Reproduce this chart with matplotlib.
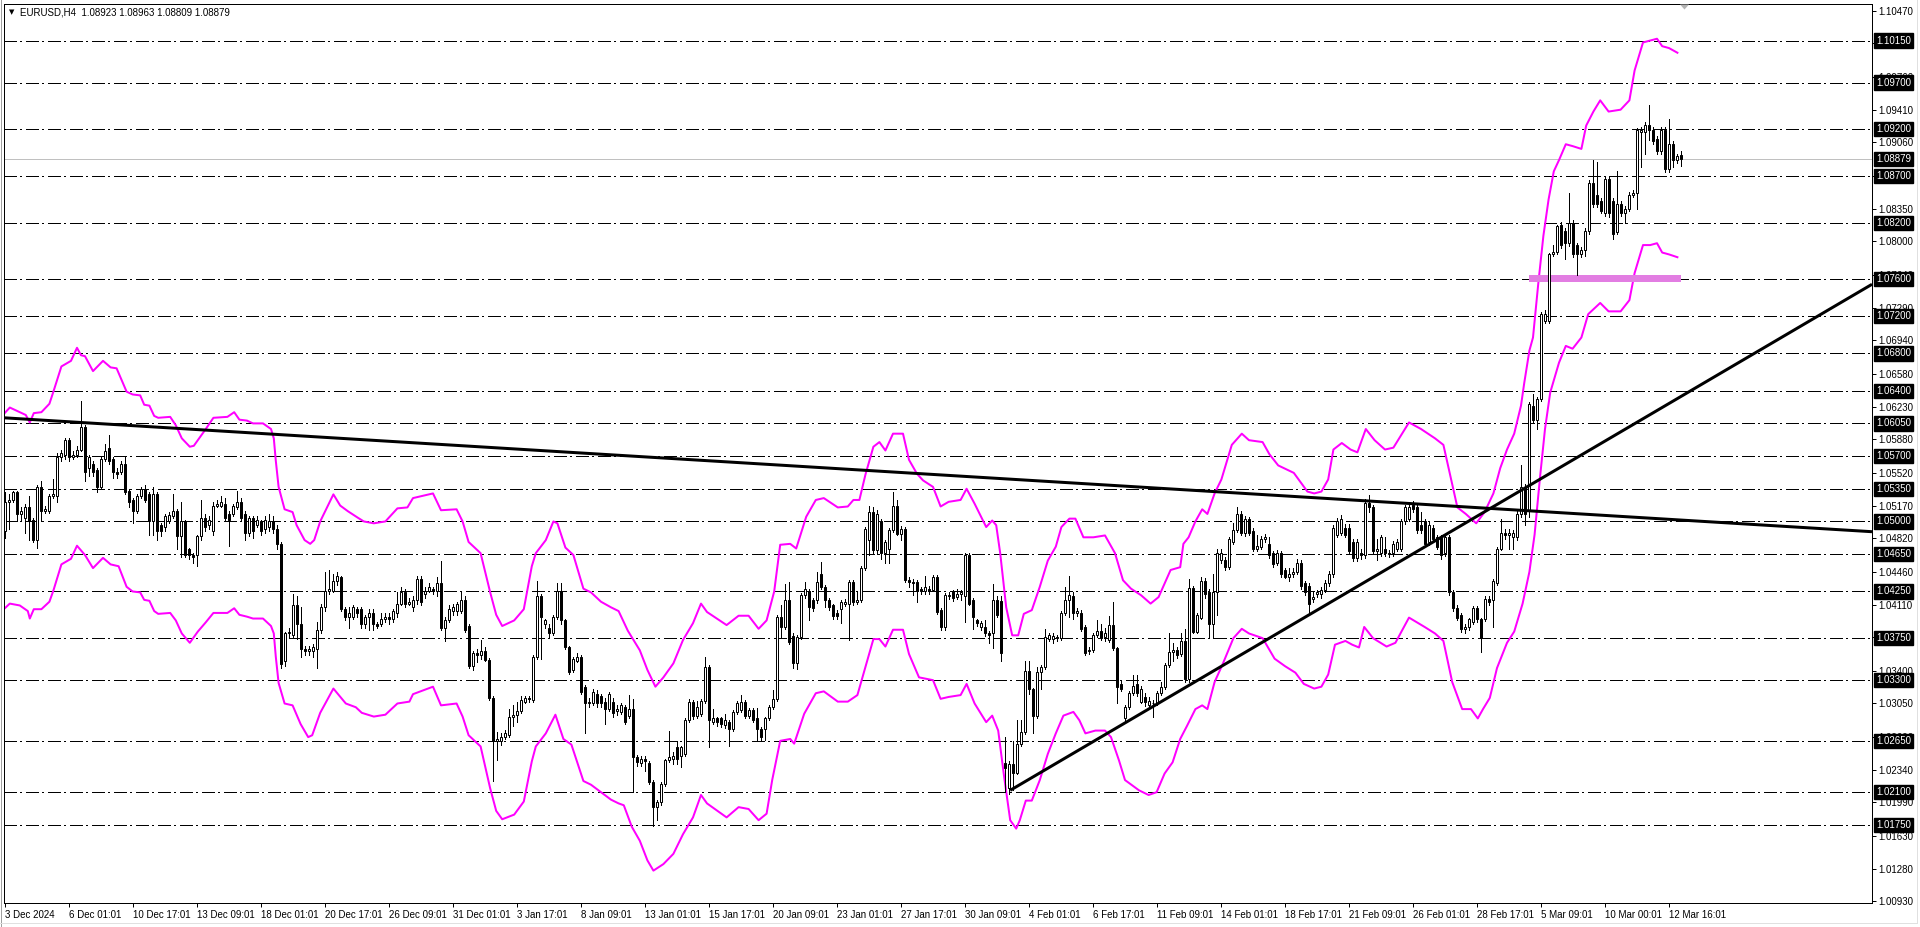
import matplotlib
matplotlib.use('Agg')
import matplotlib.pyplot as plt
import matplotlib.transforms as mtransforms
from matplotlib.patches import Rectangle, Polygon
from matplotlib.lines import Line2D
import numpy as np

W, H = 1920, 927
DPI = 100
PX = 72.0 / DPI   # one pixel in points

# ---- EURUSD H4 candles, 3 Dec 2024 .. 12 Mar 2025 ----
opens = [
    1.0490, 1.0521, 1.0523, 1.0531, 1.0508, 1.0504, 1.0515, 1.0502, 1.0480, 1.0537,
    1.0511, 1.0511, 1.0527, 1.0527, 1.0569, 1.0571, 1.0587, 1.0569, 1.0571, 1.0577,
    1.0601, 1.0557, 1.0561, 1.0555, 1.0537, 1.0567, 1.0579, 1.0567, 1.0553, 1.0553,
    1.0561, 1.0533, 1.0523, 1.0511, 1.0527, 1.0535, 1.0529, 1.0500, 1.0529, 1.0496,
    1.0494, 1.0500, 1.0506, 1.0511, 1.0484, 1.0500, 1.0470, 1.0464, 1.0464, 1.0484,
    1.0504, 1.0496, 1.0490, 1.0517, 1.0517, 1.0519, 1.0508, 1.0508, 1.0515, 1.0521,
    1.0508, 1.0488, 1.0504, 1.0496, 1.0500, 1.0492, 1.0494, 1.0500, 1.0492, 1.0476,
    1.0351, 1.0380, 1.0378, 1.0410, 1.0390, 1.0363, 1.0361, 1.0361, 1.0363, 1.0384,
    1.0408, 1.0426, 1.0426, 1.0436, 1.0440, 1.0406, 1.0398, 1.0398, 1.0406, 1.0406,
    1.0390, 1.0398, 1.0402, 1.0390, 1.0390, 1.0396, 1.0398, 1.0396, 1.0402, 1.0412,
    1.0424, 1.0412, 1.0408, 1.0416, 1.0438, 1.0422, 1.0426, 1.0428, 1.0426, 1.0434,
    1.0386, 1.0394, 1.0404, 1.0404, 1.0404, 1.0416, 1.0388, 1.0345, 1.0359, 1.0357,
    1.0361, 1.0352, 1.0311, 1.0265, 1.0265, 1.0269, 1.0271, 1.0291, 1.0293, 1.0297,
    1.0307, 1.0311, 1.0309, 1.0355, 1.0420, 1.0390, 1.0386, 1.0380, 1.0398, 1.0426,
    1.0394, 1.0365, 1.0341, 1.0351, 1.0355, 1.0323, 1.0305, 1.0305, 1.0315, 1.0313,
    1.0307, 1.0299, 1.0307, 1.0297, 1.0296, 1.0301, 1.0292, 1.0299, 1.0248, 1.0241,
    1.0246, 1.0241, 1.0221, 1.0194, 1.0200, 1.0219, 1.0244, 1.0246, 1.0258, 1.0249,
    1.0251, 1.0287, 1.0307, 1.0292, 1.0294, 1.0308, 1.0344, 1.0285, 1.0289, 1.0289,
    1.0282, 1.0285, 1.0278, 1.0296, 1.0298, 1.0307, 1.0292, 1.0298, 1.0289, 1.0278,
    1.0278, 1.0289, 1.0301, 1.0310, 1.0398, 1.0387, 1.0416, 1.0377, 1.0348, 1.0376,
    1.0421, 1.0426, 1.0416, 1.0416, 1.0444, 1.0430, 1.0416, 1.0410, 1.0402, 1.0406,
    1.0412, 1.0412, 1.0435, 1.0414, 1.0416, 1.0450, 1.0480, 1.0510, 1.0469, 1.0500,
    1.0466, 1.0470, 1.0491, 1.0516, 1.0487, 1.0492, 1.0437, 1.0435, 1.0435, 1.0428,
    1.0425, 1.0428, 1.0427, 1.0441, 1.0405, 1.0387, 1.0420, 1.0425, 1.0419, 1.0422,
    1.0420, 1.0464, 1.0416, 1.0394, 1.0387, 1.0387, 1.0380, 1.0380, 1.0416, 1.0415,
    1.0241, 1.0215, 1.0240, 1.0231, 1.0262, 1.0274, 1.0340, 1.0320, 1.0292, 1.0339,
    1.0344, 1.0374, 1.0374, 1.0376, 1.0375, 1.0402, 1.0416, 1.0420, 1.0402, 1.0402,
    1.0387, 1.0361, 1.0362, 1.0378, 1.0383, 1.0376, 1.0373, 1.0389, 1.0364, 1.0326,
    1.0289, 1.0301, 1.0316, 1.0326, 1.0307, 1.0312, 1.0303, 1.0305, 1.0305, 1.0316,
    1.0323, 1.0346, 1.0360, 1.0362, 1.0358, 1.0372, 1.0331, 1.0429, 1.0382, 1.0397,
    1.0436, 1.0424, 1.0390, 1.0424, 1.0459, 1.0459, 1.0451, 1.0478, 1.0491, 1.0508,
    1.0488, 1.0503, 1.0490, 1.0471, 1.0473, 1.0481, 1.0476, 1.0466, 1.0456, 1.0466,
    1.0448, 1.0441, 1.0444, 1.0446, 1.0456, 1.0434, 1.0431, 1.0417, 1.0422, 1.0422,
    1.0427, 1.0434, 1.0444, 1.0486, 1.0488, 1.0493, 1.0493, 1.0478, 1.0461, 1.0466,
    1.0464, 1.0520, 1.0515, 1.0468, 1.0466, 1.0471, 1.0466, 1.0466, 1.0471, 1.0471,
    1.0500, 1.0503, 1.0518, 1.0515, 1.0496, 1.0500, 1.0478, 1.0493, 1.0483, 1.0483,
    1.0466, 1.0483, 1.0424, 1.0407, 1.0400, 1.0385, 1.0387, 1.0392, 1.0407, 1.0395,
    1.0395, 1.0417, 1.0416, 1.0434, 1.0471, 1.0488, 1.0486, 1.0483, 1.0483, 1.0508,
    1.0537, 1.0512, 1.0624, 1.0609, 1.0631, 1.0715, 1.0715, 1.0786, 1.0789, 1.0818,
    1.0811, 1.0798, 1.0820, 1.0796, 1.0786, 1.0791, 1.0811, 1.0862, 1.0850, 1.0843,
    1.0830, 1.0867, 1.0843, 1.0810, 1.0840, 1.0830, 1.0835, 1.0850, 1.0852, 1.0917,
    1.0917, 1.0925, 1.0919, 1.0910, 1.0897, 1.0919, 1.0877, 1.0904, 1.0887, 1.08923,
]
highs = [
    1.0531, 1.0529, 1.0533, 1.0533, 1.0515, 1.0519, 1.0527, 1.0504, 1.0539, 1.0543,
    1.0517, 1.0529, 1.0545, 1.0573, 1.0577, 1.0589, 1.0589, 1.0575, 1.0581, 1.0629,
    1.0603, 1.0571, 1.0565, 1.0557, 1.0569, 1.0583, 1.0593, 1.0569, 1.0557, 1.0565,
    1.0569, 1.0535, 1.0525, 1.0529, 1.0537, 1.0539, 1.0531, 1.0537, 1.0531, 1.0498,
    1.0508, 1.0510, 1.0529, 1.0513, 1.0521, 1.0502, 1.0472, 1.0466, 1.0486, 1.0523,
    1.0508, 1.0506, 1.0521, 1.0523, 1.0527, 1.0525, 1.0511, 1.0519, 1.0533, 1.0525,
    1.0511, 1.0506, 1.0506, 1.0506, 1.0502, 1.0506, 1.0508, 1.0506, 1.0496, 1.0478,
    1.0382, 1.0386, 1.0422, 1.0420, 1.0408, 1.0367, 1.0367, 1.0369, 1.0392, 1.0412,
    1.0446, 1.0448, 1.0444, 1.0446, 1.0442, 1.0408, 1.0408, 1.0410, 1.0408, 1.0408,
    1.0400, 1.0406, 1.0406, 1.0392, 1.0402, 1.0402, 1.0402, 1.0406, 1.0424, 1.0430,
    1.0428, 1.0418, 1.0420, 1.0442, 1.0442, 1.0430, 1.0434, 1.0430, 1.0440, 1.0458,
    1.0398, 1.0410, 1.0412, 1.0414, 1.0424, 1.0420, 1.0390, 1.0361, 1.0363, 1.0373,
    1.0365, 1.0354, 1.0313, 1.0275, 1.0273, 1.0277, 1.0299, 1.0303, 1.0307, 1.0313,
    1.0313, 1.0313, 1.0357, 1.0436, 1.0422, 1.0396, 1.0390, 1.0400, 1.0434, 1.0434,
    1.0396, 1.0367, 1.0355, 1.0359, 1.0357, 1.0325, 1.0311, 1.0321, 1.0319, 1.0315,
    1.0311, 1.0317, 1.0311, 1.0303, 1.0305, 1.0303, 1.0314, 1.0310, 1.0250, 1.0249,
    1.0249, 1.0243, 1.0223, 1.0202, 1.0221, 1.0246, 1.0276, 1.0253, 1.0265, 1.0260,
    1.0289, 1.0310, 1.0309, 1.0308, 1.0310, 1.0355, 1.0346, 1.0299, 1.0291, 1.0291,
    1.0294, 1.0287, 1.0298, 1.0308, 1.0314, 1.0309, 1.0300, 1.0300, 1.0300, 1.0280,
    1.0291, 1.0303, 1.0319, 1.0400, 1.0410, 1.0433, 1.0435, 1.0380, 1.0378, 1.0423,
    1.0435, 1.0428, 1.0418, 1.0446, 1.0457, 1.0432, 1.0418, 1.0412, 1.0405, 1.0416,
    1.0417, 1.0437, 1.0437, 1.0425, 1.0452, 1.0494, 1.0516, 1.0515, 1.0512, 1.0503,
    1.0480, 1.0493, 1.0532, 1.0523, 1.0495, 1.0494, 1.0440, 1.0438, 1.0437, 1.0430,
    1.0442, 1.0431, 1.0443, 1.0443, 1.0407, 1.0423, 1.0424, 1.0427, 1.0428, 1.0427,
    1.0466, 1.0466, 1.0418, 1.0396, 1.0393, 1.0394, 1.0383, 1.0433, 1.0420, 1.0420,
    1.0269, 1.0243, 1.0265, 1.0287, 1.0287, 1.0350, 1.0350, 1.0322, 1.0344, 1.0346,
    1.0385, 1.0380, 1.0380, 1.0378, 1.0404, 1.0430, 1.0442, 1.0424, 1.0407, 1.0405,
    1.0389, 1.0365, 1.0380, 1.0394, 1.0390, 1.0386, 1.0399, 1.0414, 1.0366, 1.0330,
    1.0303, 1.0318, 1.0335, 1.0335, 1.0324, 1.0316, 1.0312, 1.0309, 1.0318, 1.0328,
    1.0348, 1.0380, 1.0370, 1.0366, 1.0380, 1.0385, 1.0438, 1.0431, 1.0402, 1.0440,
    1.0439, 1.0428, 1.0444, 1.0470, 1.0471, 1.0462, 1.0483, 1.0498, 1.0515, 1.0511,
    1.0506, 1.0505, 1.0493, 1.0486, 1.0484, 1.0487, 1.0483, 1.0468, 1.0469, 1.0468,
    1.0450, 1.0450, 1.0450, 1.0460, 1.0459, 1.0436, 1.0434, 1.0424, 1.0427, 1.0430,
    1.0437, 1.0447, 1.0496, 1.0504, 1.0507, 1.0497, 1.0497, 1.0481, 1.0481, 1.0470,
    1.0524, 1.0528, 1.0518, 1.0481, 1.0486, 1.0483, 1.0469, 1.0479, 1.0481, 1.0503,
    1.0518, 1.0520, 1.0522, 1.0518, 1.0510, 1.0503, 1.0499, 1.0496, 1.0486, 1.0486,
    1.0486, 1.0486, 1.0427, 1.0410, 1.0402, 1.0390, 1.0397, 1.0409, 1.0409, 1.0397,
    1.0420, 1.0420, 1.0438, 1.0473, 1.0503, 1.0492, 1.0492, 1.0491, 1.0511, 1.0560,
    1.0540, 1.0628, 1.0636, 1.0633, 1.0724, 1.0726, 1.0788, 1.0796, 1.0818, 1.0821,
    1.0814, 1.0852, 1.0823, 1.0798, 1.0794, 1.0814, 1.0866, 1.0887, 1.0885, 1.0846,
    1.0870, 1.0870, 1.0846, 1.0875, 1.0843, 1.0838, 1.0853, 1.0855, 1.0921, 1.0922,
    1.0928, 1.0946, 1.0922, 1.0913, 1.0922, 1.0922, 1.0931, 1.0907, 1.0894, 1.08963,
]
lows = [
    1.0482, 1.0492, 1.0521, 1.0500, 1.0500, 1.0488, 1.0480, 1.0478, 1.0472, 1.0500,
    1.0509, 1.0509, 1.0525, 1.0521, 1.0565, 1.0567, 1.0565, 1.0567, 1.0569, 1.0575,
    1.0543, 1.0549, 1.0549, 1.0531, 1.0535, 1.0565, 1.0561, 1.0547, 1.0547, 1.0551,
    1.0529, 1.0515, 1.0498, 1.0509, 1.0525, 1.0521, 1.0486, 1.0486, 1.0480, 1.0484,
    1.0490, 1.0498, 1.0504, 1.0470, 1.0462, 1.0462, 1.0460, 1.0456, 1.0452, 1.0480,
    1.0490, 1.0492, 1.0486, 1.0515, 1.0515, 1.0502, 1.0474, 1.0506, 1.0513, 1.0500,
    1.0480, 1.0484, 1.0482, 1.0494, 1.0486, 1.0488, 1.0490, 1.0488, 1.0470, 1.0343,
    1.0345, 1.0375, 1.0376, 1.0374, 1.0355, 1.0357, 1.0357, 1.0355, 1.0343, 1.0380,
    1.0404, 1.0422, 1.0424, 1.0432, 1.0404, 1.0394, 1.0386, 1.0396, 1.0398, 1.0386,
    1.0386, 1.0384, 1.0384, 1.0386, 1.0388, 1.0392, 1.0390, 1.0392, 1.0398, 1.0410,
    1.0408, 1.0410, 1.0404, 1.0412, 1.0410, 1.0418, 1.0424, 1.0422, 1.0420, 1.0384,
    1.0372, 1.0392, 1.0400, 1.0400, 1.0402, 1.0382, 1.0343, 1.0341, 1.0349, 1.0353,
    1.0350, 1.0309, 1.0222, 1.0245, 1.0261, 1.0267, 1.0269, 1.0281, 1.0285, 1.0295,
    1.0305, 1.0307, 1.0307, 1.0353, 1.0353, 1.0386, 1.0376, 1.0378, 1.0396, 1.0390,
    1.0363, 1.0337, 1.0339, 1.0349, 1.0315, 1.0273, 1.0301, 1.0303, 1.0301, 1.0301,
    1.0283, 1.0297, 1.0291, 1.0293, 1.0294, 1.0283, 1.0290, 1.0210, 1.0238, 1.0238,
    1.0233, 1.0219, 1.0174, 1.0180, 1.0196, 1.0217, 1.0242, 1.0240, 1.0240, 1.0237,
    1.0249, 1.0285, 1.0288, 1.0290, 1.0292, 1.0306, 1.0258, 1.0283, 1.0281, 1.0280,
    1.0279, 1.0260, 1.0276, 1.0294, 1.0296, 1.0290, 1.0290, 1.0285, 1.0266, 1.0265,
    1.0266, 1.0287, 1.0299, 1.0308, 1.0376, 1.0385, 1.0369, 1.0343, 1.0342, 1.0374,
    1.0418, 1.0394, 1.0404, 1.0413, 1.0428, 1.0408, 1.0405, 1.0396, 1.0396, 1.0391,
    1.0409, 1.0373, 1.0410, 1.0412, 1.0414, 1.0448, 1.0464, 1.0465, 1.0465, 1.0460,
    1.0455, 1.0455, 1.0489, 1.0485, 1.0480, 1.0435, 1.0430, 1.0421, 1.0414, 1.0422,
    1.0422, 1.0422, 1.0425, 1.0401, 1.0384, 1.0384, 1.0417, 1.0415, 1.0417, 1.0416,
    1.0392, 1.0410, 1.0385, 1.0388, 1.0384, 1.0377, 1.0370, 1.0364, 1.0398, 1.0350,
    1.0210, 1.0208, 1.0212, 1.0229, 1.0260, 1.0272, 1.0315, 1.0273, 1.0290, 1.0320,
    1.0342, 1.0372, 1.0370, 1.0372, 1.0373, 1.0400, 1.0398, 1.0396, 1.0399, 1.0383,
    1.0357, 1.0358, 1.0360, 1.0376, 1.0373, 1.0372, 1.0371, 1.0362, 1.0305, 1.0318,
    1.0285, 1.0299, 1.0314, 1.0313, 1.0305, 1.0302, 1.0301, 1.0291, 1.0303, 1.0314,
    1.0321, 1.0344, 1.0350, 1.0354, 1.0356, 1.0328, 1.0328, 1.0380, 1.0380, 1.0395,
    1.0418, 1.0375, 1.0375, 1.0400, 1.0455, 1.0448, 1.0449, 1.0476, 1.0489, 1.0486,
    1.0484, 1.0485, 1.0468, 1.0468, 1.0470, 1.0478, 1.0461, 1.0451, 1.0453, 1.0441,
    1.0439, 1.0436, 1.0440, 1.0444, 1.0428, 1.0421, 1.0402, 1.0414, 1.0419, 1.0418,
    1.0424, 1.0431, 1.0441, 1.0483, 1.0485, 1.0483, 1.0465, 1.0458, 1.0458, 1.0460,
    1.0461, 1.0510, 1.0465, 1.0459, 1.0463, 1.0463, 1.0462, 1.0463, 1.0468, 1.0468,
    1.0497, 1.0500, 1.0510, 1.0488, 1.0488, 1.0473, 1.0475, 1.0478, 1.0470, 1.0460,
    1.0463, 1.0421, 1.0404, 1.0394, 1.0382, 1.0380, 1.0384, 1.0390, 1.0392, 1.0360,
    1.0393, 1.0410, 1.0387, 1.0432, 1.0469, 1.0481, 1.0471, 1.0471, 1.0480, 1.0505,
    1.0496, 1.0505, 1.0606, 1.0599, 1.0629, 1.0712, 1.0712, 1.0784, 1.0786, 1.0793,
    1.0781, 1.0795, 1.0783, 1.0764, 1.0783, 1.0784, 1.0808, 1.0837, 1.0837, 1.0830,
    1.0827, 1.0826, 1.0803, 1.0808, 1.0827, 1.0820, 1.0832, 1.0848, 1.0835, 1.0880,
    1.0894, 1.0909, 1.0904, 1.0894, 1.0894, 1.0874, 1.0874, 1.0880, 1.0884, 1.08809,
]
closes = [
    1.0521, 1.0523, 1.0531, 1.0508, 1.0511, 1.0515, 1.0500, 1.0480, 1.0537, 1.0511,
    1.0513, 1.0527, 1.0529, 1.0569, 1.0573, 1.0587, 1.0569, 1.0571, 1.0577, 1.0601,
    1.0553, 1.0569, 1.0553, 1.0537, 1.0567, 1.0575, 1.0565, 1.0553, 1.0551, 1.0561,
    1.0531, 1.0521, 1.0511, 1.0527, 1.0535, 1.0523, 1.0500, 1.0529, 1.0490, 1.0490,
    1.0506, 1.0507, 1.0511, 1.0484, 1.0500, 1.0464, 1.0464, 1.0462, 1.0484, 1.0504,
    1.0494, 1.0502, 1.0517, 1.0519, 1.0521, 1.0504, 1.0502, 1.0517, 1.0521, 1.0504,
    1.0488, 1.0504, 1.0490, 1.0502, 1.0490, 1.0502, 1.0500, 1.0492, 1.0476, 1.0347,
    1.0380, 1.0382, 1.0410, 1.0390, 1.0363, 1.0361, 1.0363, 1.0365, 1.0384, 1.0408,
    1.0426, 1.0428, 1.0436, 1.0442, 1.0406, 1.0398, 1.0402, 1.0408, 1.0402, 1.0390,
    1.0398, 1.0402, 1.0390, 1.0388, 1.0396, 1.0398, 1.0396, 1.0404, 1.0412, 1.0424,
    1.0412, 1.0414, 1.0416, 1.0438, 1.0414, 1.0426, 1.0430, 1.0426, 1.0434, 1.0386,
    1.0394, 1.0406, 1.0408, 1.0412, 1.0416, 1.0384, 1.0345, 1.0359, 1.0357, 1.0361,
    1.0352, 1.0311, 1.0265, 1.0267, 1.0269, 1.0273, 1.0291, 1.0293, 1.0297, 1.0309,
    1.0311, 1.0310, 1.0355, 1.0420, 1.0398, 1.0394, 1.0380, 1.0398, 1.0426, 1.0394,
    1.0365, 1.0339, 1.0353, 1.0355, 1.0317, 1.0305, 1.0307, 1.0317, 1.0305, 1.0305,
    1.0299, 1.0315, 1.0295, 1.0299, 1.0303, 1.0285, 1.0299, 1.0248, 1.0242, 1.0246,
    1.0243, 1.0221, 1.0194, 1.0200, 1.0219, 1.0244, 1.0248, 1.0249, 1.0246, 1.0258,
    1.0287, 1.0307, 1.0292, 1.0301, 1.0308, 1.0344, 1.0287, 1.0289, 1.0285, 1.0283,
    1.0287, 1.0278, 1.0296, 1.0305, 1.0307, 1.0292, 1.0298, 1.0287, 1.0278, 1.0269,
    1.0289, 1.0301, 1.0310, 1.0398, 1.0387, 1.0416, 1.0371, 1.0348, 1.0376, 1.0421,
    1.0428, 1.0408, 1.0407, 1.0435, 1.0430, 1.0416, 1.0408, 1.0399, 1.0399, 1.0414,
    1.0414, 1.0435, 1.0414, 1.0416, 1.0450, 1.0492, 1.0510, 1.0469, 1.0508, 1.0466,
    1.0478, 1.0491, 1.0517, 1.0487, 1.0492, 1.0437, 1.0435, 1.0434, 1.0425, 1.0425,
    1.0430, 1.0425, 1.0441, 1.0403, 1.0387, 1.0421, 1.0421, 1.0418, 1.0422, 1.0424,
    1.0464, 1.0412, 1.0398, 1.0391, 1.0391, 1.0380, 1.0378, 1.0416, 1.0400, 1.0359,
    1.0236, 1.0240, 1.0231, 1.0262, 1.0274, 1.0340, 1.0320, 1.0292, 1.0339, 1.0344,
    1.0376, 1.0378, 1.0377, 1.0375, 1.0402, 1.0416, 1.0421, 1.0402, 1.0404, 1.0385,
    1.0359, 1.0362, 1.0378, 1.0383, 1.0375, 1.0380, 1.0389, 1.0364, 1.0323, 1.0321,
    1.0301, 1.0316, 1.0324, 1.0316, 1.0321, 1.0307, 1.0308, 1.0306, 1.0316, 1.0323,
    1.0346, 1.0360, 1.0362, 1.0357, 1.0372, 1.0331, 1.0429, 1.0382, 1.0400, 1.0436,
    1.0422, 1.0390, 1.0424, 1.0466, 1.0466, 1.0451, 1.0481, 1.0491, 1.0508, 1.0488,
    1.0503, 1.0488, 1.0471, 1.0474, 1.0481, 1.0483, 1.0464, 1.0454, 1.0466, 1.0444,
    1.0441, 1.0444, 1.0446, 1.0456, 1.0431, 1.0424, 1.0412, 1.0419, 1.0424, 1.0427,
    1.0434, 1.0444, 1.0493, 1.0500, 1.0503, 1.0486, 1.0468, 1.0461, 1.0478, 1.0464,
    1.0520, 1.0515, 1.0468, 1.0470, 1.0483, 1.0466, 1.0465, 1.0476, 1.0478, 1.0500,
    1.0515, 1.0515, 1.0513, 1.0491, 1.0491, 1.0476, 1.0496, 1.0481, 1.0473, 1.0464,
    1.0483, 1.0424, 1.0407, 1.0397, 1.0385, 1.0387, 1.0395, 1.0407, 1.0395, 1.0375,
    1.0417, 1.0414, 1.0436, 1.0471, 1.0488, 1.0486, 1.0488, 1.0488, 1.0508, 1.0537,
    1.0508, 1.0626, 1.0609, 1.0631, 1.0722, 1.0722, 1.0786, 1.0789, 1.0816, 1.0796,
    1.0798, 1.0820, 1.0786, 1.0786, 1.0791, 1.0811, 1.0862, 1.0840, 1.0840, 1.0833,
    1.0867, 1.0830, 1.0808, 1.0840, 1.0830, 1.0835, 1.0850, 1.0852, 1.0919, 1.0919,
    1.0925, 1.0919, 1.0907, 1.0897, 1.0919, 1.0877, 1.0904, 1.0887, 1.0891, 1.08879,
]

# ---- envelope bands (magenta), traced as (bar, price) ----
upper_pos = [
    -0.4, 1.1, 3.6, 5.1, 6.1, 7.1, 9.0, 11.0, 12.0, 14.0, 16.4, 17.9, 18.9, 19.9, 21.9,
    24.4, 26.3, 27.8, 30.3, 31.8, 33.7, 34.7, 36.0, 37.2, 38.2, 41.2, 42.6, 44.1, 46.1,
    47.1, 48.1, 50.1, 52.0, 55.5, 57.2, 58.5, 60.4, 61.9, 64.4, 66.4, 67.1, 67.6, 68.3,
    69.8, 71.8, 72.8, 74.8, 76.2, 77.2, 78.7, 82.0, 83.7, 85.6, 88.1, 89.6, 92.1, 95.0,
    98.0, 100.5, 101.9, 106.9, 108.9, 112.8, 114.3, 115.8, 118.8, 121.2, 122.7, 124.2,
    127.2, 129.6, 131.6, 132.6, 135.1, 137.0, 138.0, 140.0, 142.0, 144.5, 146.4, 148.9,
    151.4, 153.3,
    155.6, 158.6, 160.5, 162.5, 164.5, 167.0, 169.4, 171.9, 173.9, 175.4, 180.3, 183.3,
    185.8, 188.3, 190.3, 192.2, 193.7, 196.2, 197.7, 200.2, 202.6, 204.6, 208.1, 210.6,
    212.0, 213.5, 215.0, 217.0, 218.5, 220.0, 221.9, 224.4, 225.9, 227.9, 229.4, 231.9,
    233.8, 235.8, 238.8, 240.3, 242.3, 245.2, 246.7, 247.7, 248.7, 250.2, 251.7, 253.2,
    254.6, 256.6, 258.6, 260.6, 262.6, 264.0, 266.0, 267.5, 269.5, 272.0, 274.9, 277.4,
    279.4, 281.4, 283.9, 286.3, 288.3, 291.3,
    293.7, 294.5, 295.8, 297.5, 299.2, 300.5, 302.3, 304.0, 306.6, 309.1, 310.9, 314.3,
    316.0, 318.2, 322.1, 323.8, 325.5, 327.2, 329.0, 330.7, 332.0, 334.1, 336.3, 338.0,
    340.1, 342.3, 344.9, 347.0, 350.9, 353.9, 357.4, 359.5, 361.7, 363.0, 365.1, 367.7,
    369.8, 372.0, 373.7, 375.4, 377.2, 378.9, 379.7, 381.0, 381.9, 383.2, 384.5, 385.8,
    387.1, 388.4, 390.1, 391.8, 394.0, 395.2, 397.0, 398.7, 400.8, 403.8, 406.0, 407.3,
    409.4, 411.2, 412.9, 414.2, 415.9, 418.0,
]
upper_val = [
    1.0615, 1.0622, 1.0617, 1.0614, 1.0606, 1.0616, 1.0617, 1.0626, 1.0639, 1.0666,
    1.0672, 1.0686, 1.0678, 1.0677, 1.0661, 1.0672, 1.0665, 1.0664, 1.0639, 1.0636,
    1.0635, 1.0625, 1.0624, 1.0613, 1.0611, 1.0612, 1.0603, 1.0589, 1.0580, 1.0581,
    1.0587, 1.0599, 1.0611, 1.0612, 1.0617, 1.0609, 1.0608, 1.0605, 1.0605, 1.0599,
    1.0589, 1.0565, 1.0537, 1.0513, 1.0510, 1.0496, 1.0480, 1.0476, 1.0480, 1.0500,
    1.0529, 1.0517, 1.0511, 1.0504, 1.0500, 1.0498, 1.0500, 1.0514, 1.0515, 1.0525,
    1.0530, 1.0512, 1.0513, 1.0500, 1.0478, 1.0466, 1.0424, 1.0400, 1.0388, 1.0394,
    1.0406, 1.0452, 1.0466, 1.0480, 1.0500, 1.0498, 1.0472, 1.0464, 1.0428, 1.0424,
    1.0414, 1.0408, 1.0404,
    1.0383, 1.0362, 1.0341, 1.0323, 1.0333, 1.0348, 1.0373, 1.0391, 1.0412, 1.0403,
    1.0389, 1.0399, 1.0399, 1.0385, 1.0394, 1.0425, 1.0475, 1.0476, 1.0471, 1.0505,
    1.0523, 1.0525, 1.0515, 1.0516, 1.0523, 1.0523, 1.0550, 1.0580, 1.0585, 1.0576,
    1.0594, 1.0594, 1.0566, 1.0551, 1.0544, 1.0537, 1.0516, 1.0521, 1.0523, 1.0535,
    1.0519, 1.0494, 1.0501, 1.0496, 1.0466, 1.0408, 1.0378, 1.0378, 1.0401, 1.0405,
    1.0430, 1.0458, 1.0473, 1.0494, 1.0503, 1.0503, 1.0483, 1.0483, 1.0485, 1.0466,
    1.0437, 1.0428, 1.0421, 1.0412, 1.0419, 1.0448,
    1.0451, 1.0476, 1.0483, 1.0500, 1.0513, 1.0508, 1.0530, 1.0545, 1.0582, 1.0594,
    1.0587, 1.0585, 1.0572, 1.0560, 1.0552, 1.0542, 1.0532, 1.0530, 1.0532, 1.0545,
    1.0577, 1.0584, 1.0577, 1.0574, 1.0599, 1.0587, 1.0577, 1.0579, 1.0606, 1.0599,
    1.0589, 1.0582, 1.0540, 1.0515, 1.0508, 1.0498, 1.0510, 1.0530, 1.0557, 1.0577,
    1.0594, 1.0624, 1.0648, 1.0683, 1.0697, 1.0754, 1.0806, 1.0845, 1.0875, 1.0887,
    1.0904, 1.0902, 1.0899, 1.0924, 1.0939, 1.0951, 1.0939, 1.0941, 1.0951, 1.0983,
    1.1013, 1.1015, 1.1017, 1.1009, 1.1007, 1.1002,
]
lower_pos = [
    -0.4, 1.1, 3.6, 5.6, 6.1, 7.1, 9.0, 11.0, 12.0, 14.0, 16.4, 17.9, 19.9, 21.9, 24.4,
    26.3, 28.3, 30.3, 31.8, 33.7, 34.7, 36.0, 37.2, 38.2, 41.2, 42.6, 44.1, 46.1, 48.1,
    50.1, 52.0, 55.5, 57.2, 58.5, 60.4, 61.9, 64.4, 66.4, 67.1, 67.6, 68.3, 69.8, 71.8,
    73.8, 75.7, 76.7, 78.7, 82.0, 85.1, 87.6, 89.1, 92.1, 95.0, 98.0, 101.0, 101.9,
    106.9, 108.9, 112.8, 114.3, 115.8, 118.8, 121.2, 122.7, 124.2, 127.2, 129.6, 131.6,
    132.6, 135.1, 137.5, 139.5, 141.5, 144.5, 146.4, 148.9, 151.4, 153.3,
    154.6, 156.6, 158.6, 160.5, 162.0, 164.5, 167.0, 169.4, 171.9, 173.9, 175.4, 180.3,
    183.3, 185.8, 188.3, 190.3, 191.7, 193.7, 196.2, 197.2, 199.7, 202.6, 204.6, 208.1,
    210.6, 213.0, 215.0, 217.0, 218.5, 220.0, 221.9, 224.4, 225.9, 228.4, 231.9, 233.8,
    235.8, 238.8, 240.3, 242.3, 245.2, 246.7, 248.2, 249.7, 251.2, 252.7, 253.6, 255.1,
    256.6, 258.6, 260.6, 262.6, 264.5, 267.0, 268.5, 270.0, 272.5, 274.9, 276.4, 278.4,
    279.9, 283.4, 285.8, 287.8, 289.8, 291.8,
    293.7, 295.4, 297.5, 299.2, 300.5, 302.3, 304.4, 307.0, 309.1, 310.9, 314.3, 317.3,
    319.9, 322.5, 324.6, 327.2, 329.0, 330.7, 332.4, 335.0, 336.7, 338.4, 339.7, 341.9,
    345.3, 347.5, 350.9, 354.8, 357.4, 359.5, 361.7, 364.2, 366.4, 368.1, 369.4, 371.1,
    372.9, 375.4, 377.2, 379.3, 381.0, 382.3, 383.6, 384.9, 386.2, 388.4, 390.1, 391.8,
    394.0, 395.7, 398.7, 400.8, 403.8, 406.0, 407.3, 409.4, 411.2, 412.9, 414.2, 415.9,
    418.0,
]
lower_val = [
    1.0406, 1.0412, 1.0410, 1.0404, 1.0396, 1.0406, 1.0406, 1.0414, 1.0426, 1.0454,
    1.0460, 1.0474, 1.0464, 1.0450, 1.0461, 1.0454, 1.0452, 1.0430, 1.0425, 1.0424,
    1.0416, 1.0415, 1.0404, 1.0401, 1.0402, 1.0394, 1.0380, 1.0370, 1.0382, 1.0392,
    1.0402, 1.0402, 1.0407, 1.0400, 1.0398, 1.0396, 1.0396, 1.0388, 1.0380, 1.0355,
    1.0327, 1.0305, 1.0303, 1.0283, 1.0269, 1.0271, 1.0295, 1.0321, 1.0305, 1.0301,
    1.0295, 1.0291, 1.0293, 1.0305, 1.0307, 1.0315, 1.0323, 1.0303, 1.0305, 1.0291,
    1.0271, 1.0259, 1.0214, 1.0190, 1.0181, 1.0186, 1.0200, 1.0243, 1.0259, 1.0273,
    1.0293, 1.0267, 1.0261, 1.0222, 1.0218, 1.0210, 1.0202, 1.0198,
    1.0196, 1.0173, 1.0158, 1.0137, 1.0126, 1.0133, 1.0144, 1.0165, 1.0183, 1.0207,
    1.0198, 1.0183, 1.0194, 1.0192, 1.0180, 1.0187, 1.0223, 1.0265, 1.0267, 1.0262,
    1.0294, 1.0316, 1.0318, 1.0307, 1.0307, 1.0314, 1.0344, 1.0374, 1.0374, 1.0366,
    1.0384, 1.0384, 1.0358, 1.0333, 1.0330, 1.0310, 1.0312, 1.0314, 1.0326, 1.0305,
    1.0285, 1.0292, 1.0276, 1.0226, 1.0180, 1.0171, 1.0180, 1.0201, 1.0201, 1.0223,
    1.0251, 1.0273, 1.0292, 1.0296, 1.0287, 1.0273, 1.0276, 1.0276, 1.0269, 1.0244,
    1.0223, 1.0212, 1.0207, 1.0210, 1.0230, 1.0242,
    1.0267, 1.0281, 1.0299, 1.0303, 1.0299, 1.0328, 1.0348, 1.0375, 1.0385, 1.0380,
    1.0375, 1.0353, 1.0345, 1.0338, 1.0326, 1.0321, 1.0323, 1.0336, 1.0368, 1.0372,
    1.0368, 1.0365, 1.0387, 1.0375, 1.0366, 1.0370, 1.0397, 1.0387, 1.0380, 1.0372,
    1.0328, 1.0299, 1.0299, 1.0289, 1.0299, 1.0311, 1.0343, 1.0370, 1.0382, 1.0412,
    1.0446, 1.0486, 1.0545, 1.0599, 1.0638, 1.0670, 1.0688, 1.0685, 1.0697, 1.0722,
    1.0734, 1.0725, 1.0725, 1.0737, 1.0766, 1.0796, 1.0796, 1.0798, 1.0788, 1.0786,
    1.0783,
]

# trend lines: (bar, price) anchors
falling_line = ([-0.35, 466.65], [1.0611, 1.0489])
rising_line = ([251.2, 466.65], [1.0212, 1.0754])
# support zone around 1.0760
zone_bars = (380.9, 418.9)
zone_prices = (1.0756, 1.0764)

levels = [1.10150, 1.09700, 1.09200, 1.08700, 1.08200, 1.07600, 1.07200, 1.06800,
          1.06400, 1.06050, 1.05700, 1.05350, 1.05000, 1.04650, 1.04250, 1.03750,
          1.03300, 1.02650, 1.02100, 1.01750]
last_price = 1.08879
price_ticks = [1.00930, 1.01280, 1.01630, 1.01990, 1.02340, 1.02690, 1.03050, 1.03400,
               1.03760, 1.04110, 1.04460, 1.04820, 1.05170, 1.05520, 1.05880, 1.06230,
               1.06580, 1.06940, 1.07290, 1.07640, 1.08000, 1.08350, 1.08700, 1.09060,
               1.09410, 1.09760, 1.10120, 1.10470]
time_labels = ['3 Dec 2024', '6 Dec 01:01', '10 Dec 17:01', '13 Dec 09:01', '18 Dec 01:01',
               '20 Dec 17:01', '26 Dec 09:01', '31 Dec 01:01', '3 Jan 17:01', '8 Jan 09:01',
               '13 Jan 01:01', '15 Jan 17:01', '20 Jan 09:01', '23 Jan 01:01', '27 Jan 17:01',
               '30 Jan 09:01', '4 Feb 01:01', '6 Feb 17:01', '11 Feb 09:01', '14 Feb 01:01',
               '18 Feb 17:01', '21 Feb 09:01', '26 Feb 01:01', '28 Feb 17:01', '5 Mar 09:01',
               '10 Mar 00:01', '12 Mar 16:01']
title = 'EURUSD,H4  1.08923 1.08963 1.08809 1.08879'

assert len(opens) == len(highs) == len(lows) == len(closes)
assert len(upper_pos) == len(upper_val) and len(lower_pos) == len(lower_val)

plt.rcParams['font.family'] = ['Liberation Sans', 'DejaVu Sans']
plt.rcParams['lines.scale_dashes'] = False

fig = plt.figure(figsize=(W / DPI, H / DPI), dpi=DPI, facecolor='white')
ax_left, ax_right, ax_top, ax_bottom = 4, 1872, 4, 903.3
ax = fig.add_axes([ax_left / W, (H - ax_bottom) / H,
                   (ax_right - ax_left) / W, (ax_bottom - ax_top) / H])
ax.set_facecolor('white')
ax.set_xlim(-0.35, 466.65)
ax.set_ylim(1.00910, 1.10542)

# level lines (dash-dot)
for lv in levels:
    ax.axhline(lv, color='black', lw=PX, dashes=(12 * PX, 4 * PX, 2 * PX, 5 * PX),
               zorder=1, antialiased=False)
ax.axhline(last_price, color='#C0C0C0', lw=PX, zorder=1)

# bands
ax.plot(upper_pos, upper_val, color='#FF00FF', lw=2 * PX, zorder=2)
ax.plot(lower_pos, lower_val, color='#FF00FF', lw=2 * PX, zorder=2)

# candles
o = np.array(opens)
h = np.array(highs)
l = np.array(lows)
c = np.array(closes)
x = np.arange(len(o))
bull = c >= o
ax.vlines(x, l, h, color='black', lw=PX, zorder=3, antialiased=False)
body = np.maximum(np.abs(c - o), 0.00003)
ax.bar(x[bull], body[bull], bottom=o[bull], width=0.5, facecolor='white',
       edgecolor='black', lw=PX, zorder=4)
ax.bar(x[~bull], body[~bull], bottom=c[~bull], width=0.5, facecolor='black',
       edgecolor='black', lw=PX, zorder=4)

# trend lines and zone
ax.plot(*falling_line, color='black', lw=3 * PX, zorder=5, solid_capstyle='butt')
ax.plot(*rising_line, color='black', lw=3 * PX, zorder=5, solid_capstyle='butt')
ax.add_patch(Rectangle((zone_bars[0], zone_prices[0]), zone_bars[1] - zone_bars[0],
                       zone_prices[1] - zone_prices[0], facecolor='#E27DE2',
                       edgecolor='none', zorder=2.5))

# axes styling
for s in ax.spines.values():
    s.set_color('black')
    s.set_linewidth(PX)
ax.yaxis.tick_right()
ax.set_yticks(price_ticks)
ax.set_yticklabels([f'{v:.5f}' for v in price_ticks])
ax.set_xticks(np.arange(0, 16 * len(time_labels), 16))
ax.set_xticklabels(time_labels)
for lab in ax.get_xticklabels():
    lab.set_horizontalalignment('left')
ax.tick_params(axis='y', direction='out', length=4 * PX, width=PX, pad=2 * PX,
               labelsize=7, colors='black')
ax.tick_params(axis='x', direction='out', length=4 * PX, width=PX, pad=3 * PX,
               labelsize=7, colors='black')

# black price boxes on the right scale
trans = mtransforms.blended_transform_factory(ax.transAxes, ax.transData)
for lv in levels + [last_price]:
    ax.text(1.0 + 4 / (ax_right - ax_left), lv, f'{lv:.5f}', transform=trans,
            color='white', fontsize=7, va='center', ha='left', clip_on=False,
            zorder=10, bbox=dict(boxstyle='square,pad=0.22', fc='black', ec='black'))

# title line
fig.text(9 / W, 1 - 12.5 / H, '\u25BC', fontsize=5, family='DejaVu Sans',
         va='center', ha='left', color='black')
fig.text(20.5 / W, 1 - 12.5 / H, title, fontsize=7, va='center', ha='left',
         color='black')

# chart-shift marker (grey triangle under the top border)
fig.add_artist(Polygon([[1680 / W, 1 - 4.5 / H], [1689 / W, 1 - 4.5 / H],
                        [1684.5 / W, 1 - 9.5 / H]], closed=True,
                       facecolor='#B4B4B4', edgecolor='none'))

# window frame
fig.add_artist(Line2D([0.5 / W, 0.5 / W], [0, 1], color='#A0A0A0', lw=PX))
fig.add_artist(Line2D([0, 1917 / W], [1 - 923 / H, 1 - 923 / H], color='#E0E0E0', lw=PX))
fig.add_artist(Line2D([1917 / W, 1917 / W], [1 - 923 / H, 1], color='#E0E0E0', lw=PX))

fig.savefig('out.png', dpi=DPI, facecolor='white')
